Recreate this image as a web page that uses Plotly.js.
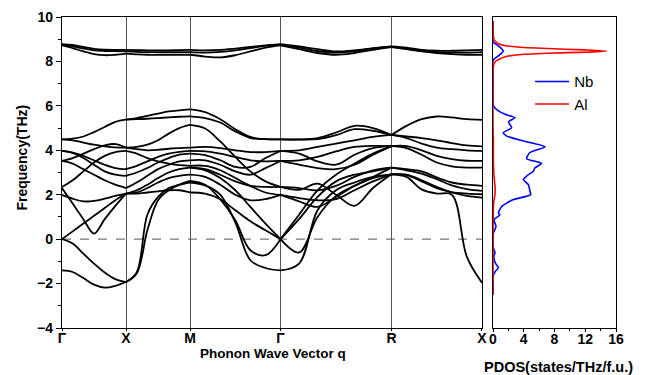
<!DOCTYPE html>
<html><head><meta charset="utf-8">
<script src="https://cdn.plot.ly/plotly-3.0.1.min.js"></script>
<style>html,body{margin:0;padding:0;background:#fff}</style>
</head><body><div id="chart" style="width:646px;height:375px"></div>
<script>
// High-symmetry path
const kLabels = ['Γ','X','M','Γ','R','X'];
const kPos = [0, 0.5, 1.0, 1.7071, 2.5731, 3.2802];

// Band frequencies (THz), 7 evenly spaced samples per path segment
const segGX = [
  [8.78, 8.74, 8.65, 8.57, 8.53, 8.52, 8.52],
  [8.75, 8.68, 8.58, 8.50, 8.47, 8.46, 8.45],
  [8.72, 8.60, 8.45, 8.33, 8.28, 8.30, 8.35],
  [4.49, 4.52, 4.62, 4.82, 5.05, 5.28, 5.38],
  [4.49, 4.45, 4.35, 4.25, 4.18, 4.13, 4.12],
  [3.97, 3.90, 3.75, 3.55, 3.35, 3.20, 3.15],
  [3.97, 3.88, 3.65, 3.35, 3.05, 2.90, 2.85],
  [3.52, 3.65, 3.85, 4.05, 4.22, 4.28, 4.12],
  [3.52, 3.40, 3.15, 2.90, 2.65, 2.45, 2.30],
  [2.35, 2.65, 3.05, 3.45, 3.75, 3.92, 3.97],
  [2.30, 1.60, 0.90, 0.25, 0.90, 1.50, 2.05],
  [1.99, 1.82, 1.70, 1.72, 1.82, 1.95, 2.05],
  [0.00, 0.35, 0.70, 1.05, 1.40, 1.75, 2.05],
  [0.00, -0.20, -0.65, -1.10, -1.50, -1.80, -1.93],
  [-1.41, -1.48, -1.75, -2.05, -2.18, -2.10, -1.93]
];
const segXM = [
  [8.52, 8.51, 8.50, 8.50, 8.50, 8.51, 8.52],
  [8.45, 8.43, 8.42, 8.42, 8.42, 8.42, 8.42],
  [8.35, 8.32, 8.30, 8.30, 8.30, 8.30, 8.30],
  [5.38, 5.45, 5.55, 5.65, 5.75, 5.80, 5.84],
  [5.38, 5.40, 5.42, 5.45, 5.48, 5.51, 5.53],
  [4.12, 4.15, 4.25, 4.45, 4.75, 5.00, 5.14],
  [4.12, 4.05, 4.00, 4.02, 4.07, 4.10, 4.12],
  [3.97, 3.85, 3.65, 3.50, 3.40, 3.33, 3.30],
  [3.15, 3.30, 3.50, 3.70, 3.85, 3.93, 3.97],
  [2.85, 3.00, 3.20, 3.45, 3.65, 3.80, 3.85],
  [2.30, 2.55, 2.85, 3.15, 3.35, 3.50, 3.55],
  [2.05, 2.20, 2.45, 2.75, 3.00, 3.15, 3.22],
  [2.05, 2.10, 2.30, 2.55, 2.75, 2.85, 2.90],
  [2.05, 2.05, 2.10, 2.15, 2.20, 2.20, 2.10],
  [-1.93, -1.50, 1.10, 1.90, 2.30, 2.45, 2.55],
  [-1.93, -1.55, 0.40, 1.75, 2.20, 2.45, 2.62]
];
const segMG = [
  [8.52, 8.50, 8.52, 8.58, 8.65, 8.72, 8.78],
  [8.42, 8.40, 8.43, 8.50, 8.60, 8.70, 8.75],
  [8.30, 8.22, 8.18, 8.28, 8.45, 8.62, 8.72],
  [5.84, 5.72, 5.40, 4.95, 4.60, 4.50, 4.49],
  [5.53, 5.45, 5.25, 4.85, 4.55, 4.50, 4.49],
  [5.14, 4.98, 4.40, 3.70, 3.05, 2.60, 2.35],
  [4.12, 4.15, 4.10, 4.00, 3.92, 3.92, 3.97],
  [3.97, 3.95, 3.85, 3.70, 3.55, 3.50, 3.52],
  [3.85, 3.78, 3.55, 3.25, 3.25, 3.65, 3.97],
  [3.55, 3.55, 3.35, 3.05, 2.90, 3.20, 3.52],
  [3.30, 3.30, 3.10, 2.75, 2.40, 2.10, 1.99],
  [3.22, 3.15, 2.90, 2.60, 2.40, 2.35, 2.35],
  [2.90, 2.80, 2.45, 2.00, 1.75, 1.80, 1.99],
  [3.22, 3.10, 2.75, 2.20, 1.45, 0.70, 0.00],
  [2.62, 2.45, 1.80, 0.85, -0.50, -0.72, 0.00],
  [2.55, 2.42, 2.00, 0.75, -0.95, -1.30, -1.41],
  [2.10, 2.05, 1.80, 1.30, 0.80, 0.40, 0.00]
];
const segGR = [
  [8.78, 8.68, 8.55, 8.45, 8.50, 8.60, 8.68],
  [8.75, 8.62, 8.47, 8.40, 8.45, 8.58, 8.66],
  [8.72, 8.55, 8.38, 8.30, 8.38, 8.52, 8.64],
  [4.49, 4.49, 4.55, 4.80, 5.10, 5.00, 4.69],
  [4.49, 4.48, 4.50, 4.68, 4.95, 4.88, 4.69],
  [3.97, 4.00, 4.15, 4.30, 4.45, 4.60, 4.69],
  [3.97, 3.85, 3.50, 3.35, 3.80, 4.10, 4.19],
  [3.52, 3.55, 3.70, 3.95, 4.15, 4.20, 4.19],
  [3.52, 3.35, 3.20, 3.15, 3.35, 3.80, 4.19],
  [2.35, 2.22, 2.50, 2.00, 1.50, 2.30, 2.92],
  [2.35, 2.30, 2.20, 2.40, 2.80, 3.10, 3.22],
  [1.99, 1.70, 1.45, 1.90, 2.40, 2.80, 3.22],
  [1.99, 1.85, 1.75, 1.80, 2.20, 2.60, 2.92],
  [0.00, 1.10, 2.20, 2.90, 3.40, 3.85, 4.19],
  [0.00, 0.90, 1.90, 2.60, 2.90, 3.05, 3.22],
  [0.00, -0.60, 1.00, 1.95, 2.40, 2.75, 2.92],
  [-1.41, -1.10, 1.30, 2.20, 2.55, 2.80, 2.92]
];
const segRX = [
  [8.68, 8.62, 8.52, 8.48, 8.48, 8.50, 8.52],
  [8.66, 8.58, 8.48, 8.42, 8.40, 8.40, 8.42],
  [8.64, 8.55, 8.45, 8.38, 8.33, 8.30, 8.30],
  [4.69, 5.10, 5.40, 5.52, 5.48, 5.40, 5.37],
  [4.69, 4.62, 4.55, 4.45, 4.32, 4.22, 4.18],
  [4.69, 4.55, 4.30, 4.12, 4.05, 4.00, 3.97],
  [4.19, 4.19, 4.00, 3.75, 3.60, 3.53, 3.52],
  [4.19, 4.10, 3.80, 3.45, 3.28, 3.22, 3.22],
  [3.22, 3.15, 3.05, 2.78, 2.55, 2.45, 2.40],
  [3.22, 3.10, 2.95, 2.70, 2.42, 2.25, 2.17],
  [2.92, 2.90, 2.65, 2.35, 2.10, 1.95, 1.87],
  [2.92, 2.88, 2.60, 2.30, 2.12, 2.05, 2.02],
  [2.92, 2.80, 2.24, 2.05, 2.00, -0.80, -1.96]
];

// Projected phonon DOS (states/THz/f.u.)
const nbFreq = [9.82, 9.0, 8.88, 8.7, 8.47, 8.25, 8.05, 7.8, 6.1, 6.0, 5.77, 5.62, 5.47, 5.28, 5.02, 4.79, 4.64, 4.42, 4.16, 3.9, 3.62, 3.41, 3.21, 3.06, 2.85, 2.68, 2.45, 2.15, 2.0, 1.78, 1.47, 1.17, 1.1, 0.87, 0.57, 0.27, 0.1, -0.3, -0.45, -0.61, -0.75, -0.91, -1.1, -1.29, -1.45, -1.66, -1.8, -2.5];
const nbDos  = [0, 0, 0, 0.7, 1.34, 0.7, 0, 0, 0, 0.05, 0.7, 1.56, 2.86, 2.0, 2.43, 1.34, 1.78, 3.95, 6.76, 4.8, 4.38, 6.33, 5.46, 5.25, 4.4, 3.95, 4.6, 4.81, 4.9, 2.65, 1.13, 0.7, 0.9, 0.13, 0.39, 0.04, 0, 0, 0.1, 0.26, 0.12, 0.15, 0.35, 0.7, 0.3, 0.03, 0, 0];
const alFreq = [9.82, 9.0, 8.9, 8.8, 8.72, 8.65, 8.58, 8.52, 8.47, 8.42, 8.37, 8.3, 8.2, 8.1, 8.0, 7.8, 7.5, 5.0, 4.5, 3.5, 3.0, 2.6, 2.3, 2.0, 1.7, 1.4, 1.0, 0, -1.0, -2.5];
const alDos  = [0, 0.1, 0.3, 0.7, 1.5, 3.2, 7.0, 12.0, 14.8, 12.5, 7.0, 3.2, 1.5, 0.8, 0.3, 0.05, 0, 0, 0.05, 0.05, 0.1, 0.2, 0.28, 0.25, 0.1, 0.05, 0.03, 0, 0, 0];

const FONT = 'Liberation Sans, Arial, sans-serif';

const segments = [segGX, segXM, segMG, segGR, segRX];
const bx = [], by = [];
segments.forEach((seg, i) => {
  const a = kPos[i], b = kPos[i + 1];
  seg.forEach(vals => {
    const n = vals.length - 1;
    vals.forEach((v, j) => { bx.push(a + (b - a) * j / n); by.push(v); });
    bx.push(null); by.push(null);
  });
});

const traces = [
  {x: bx, y: by, type: 'scatter', mode: 'lines', xaxis: 'x', yaxis: 'y',
   line: {color: '#000', width: 1.8, shape: 'spline', smoothing: 1},
   showlegend: false, hoverinfo: 'skip', connectgaps: false},
  {x: nbDos, y: nbFreq, type: 'scatter', mode: 'lines', name: 'Nb', xaxis: 'x2', yaxis: 'y2',
   line: {color: '#0000ff', width: 1.6, shape: 'spline', smoothing: 0.6}},
  {x: alDos, y: alFreq, type: 'scatter', mode: 'lines', name: 'Al', xaxis: 'x2', yaxis: 'y2',
   line: {color: '#ff0000', width: 1.6, shape: 'spline', smoothing: 0.5}}
];

const axFont = {family: FONT, size: 14, color: '#000', weight: 'bold'};
const layout = {
  width: 646, height: 375,
  margin: {l: 62, r: 30, t: 17, b: 47},
  paper_bgcolor: '#fff', plot_bgcolor: '#fff',
  showlegend: true,
  legend: {x: 0.845, y: 0.845, xanchor: 'left', yanchor: 'top', bgcolor: 'rgba(0,0,0,0)',
           font: {family: FONT, size: 15, color: '#000'}, itemwidth: 34, tracegroupgap: 0},
  xaxis: {domain: [0, 0.7581], range: [kPos[0], kPos[kPos.length - 1]],
          tickmode: 'array', tickvals: kPos, ticktext: kLabels,
          showgrid: true, gridcolor: '#555', gridwidth: 1, zeroline: false,
          showline: true, mirror: true, linecolor: '#000', linewidth: 1.2,
          ticks: 'outside', ticklen: 2, tickcolor: '#000', tickfont: axFont, ticklabelstandoff: -5},
  yaxis: {domain: [0, 1], range: [-4, 10], tick0: -4, dtick: 2, zeroline: false, showgrid: false,
          showline: true, mirror: true, linecolor: '#000', linewidth: 1.2,
          ticks: 'outside', ticklen: 5, tickcolor: '#000', tickfont: axFont,
          minor: {dtick: 1, ticks: 'outside', ticklen: 3, tickcolor: '#000', showgrid: false}},
  xaxis2: {domain: [0.778, 1], anchor: 'y2', range: [0, 16], tick0: 0, dtick: 4, zeroline: false, showgrid: false,
           showline: true, mirror: true, linecolor: '#000', linewidth: 1.2,
           ticks: 'outside', ticklen: 3, tickcolor: '#000', tickfont: axFont, ticklabelstandoff: -5,
           minor: {dtick: 2, ticks: 'outside', ticklen: 2, tickcolor: '#000', showgrid: false}},
  yaxis2: {domain: [0, 1], anchor: 'x2', range: [-4, 10], showticklabels: false, ticks: '',
           zeroline: false, showgrid: false, showline: true, mirror: true, linecolor: '#000', linewidth: 1.2},
  shapes: [{type: 'line', xref: 'x', yref: 'y', x0: kPos[0], x1: kPos[kPos.length - 1], y0: 0, y1: 0,
            line: {color: '#777', width: 1.4, dash: 'dash'}, layer: 'below'}],
  annotations: [
    {text: 'Phonon Wave Vector q', xref: 'paper', yref: 'paper', x: 0.381, y: 0, xanchor: 'center', yanchor: 'top',
     yshift: -16, showarrow: false, font: {family: FONT, size: 13.5, color: '#000', weight: 'bold'}},
    {text: 'PDOS(states/THz/f.u.)', xref: 'paper', yref: 'paper', x: 0.897, y: 0, xanchor: 'center', yanchor: 'top',
     yshift: -29, showarrow: false, font: {family: FONT, size: 14.5, color: '#000', weight: 'bold'}},
    {text: 'Frequency(THz)', xref: 'paper', yref: 'paper', x: -0.0727, y: 0.547, xanchor: 'center', yanchor: 'middle',
     textangle: -90, showarrow: false, font: {family: FONT, size: 14, color: '#000', weight: 'bold'}}
  ]
};

Plotly.newPlot('chart', traces, layout, {displayModeBar: false, staticPlot: true});
</script></body></html>
